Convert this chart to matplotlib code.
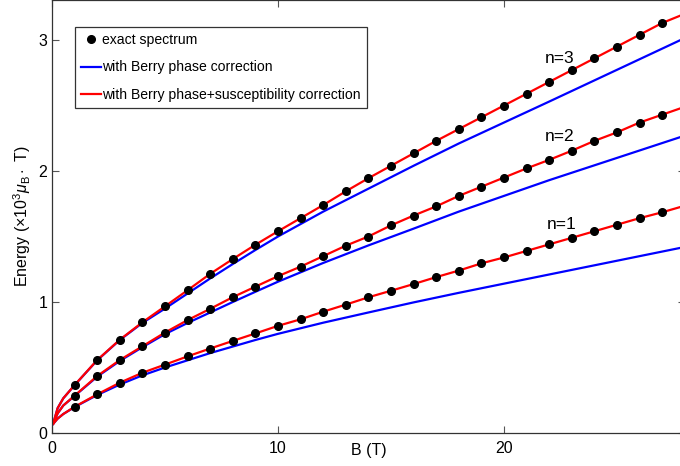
import matplotlib
matplotlib.use("Agg")
import matplotlib.pyplot as plt

plt.rcParams['font.family'] = ['Liberation Sans', 'DejaVu Sans']
plt.rcParams['mathtext.fontset'] = 'custom'
plt.rcParams['mathtext.rm'] = 'Liberation Sans'
plt.rcParams['mathtext.it'] = 'Liberation Sans:italic'

# exact spectrum, B = 1..27 T
B_exact = list(range(1, 28))
exact_n1 = [0.200, 0.295, 0.384, 0.460, 0.522, 0.585, 0.645, 0.703, 0.760, 0.818,
            0.868, 0.926, 0.980, 1.036, 1.086, 1.137, 1.190, 1.240, 1.295, 1.340,
            1.390, 1.440, 1.490, 1.540, 1.590, 1.640, 1.685]
exact_n2 = [0.285, 0.435, 0.557, 0.662, 0.767, 0.862, 0.948, 1.037, 1.117, 1.197,
            1.270, 1.350, 1.430, 1.500, 1.585, 1.660, 1.730, 1.810, 1.880, 1.950,
            2.020, 2.085, 2.155, 2.230, 2.295, 2.370, 2.430]
exact_n3 = [0.366, 0.557, 0.712, 0.845, 0.967, 1.090, 1.215, 1.328, 1.437, 1.540,
            1.640, 1.740, 1.845, 1.945, 2.040, 2.135, 2.230, 2.320, 2.410, 2.500,
            2.590, 2.680, 2.770, 2.860, 2.950, 3.040, 3.130]

# Berry phase + susceptibility correction (red)
B_red = [0.05, 0.25, 0.5] + B_exact + [28.0]
red_n1 = [0.070, 0.110, 0.145] + exact_n1 + [1.735]
red_n2 = [0.070, 0.150, 0.210] + exact_n2 + [2.490]
red_n3 = [0.070, 0.190, 0.265] + exact_n3 + [3.200]

# Berry phase correction only (blue)
B_blue = [0.05, 0.25, 0.5, 1, 2, 3, 4, 5, 6, 7, 8, 9, 10, 12, 14, 16, 18, 22, 28]
blue_n1 = [0.070, 0.110, 0.145, 0.198, 0.290, 0.370, 0.440, 0.500, 0.555, 0.610,
           0.660, 0.710, 0.757, 0.842, 0.920, 0.997, 1.070, 1.210, 1.420]
blue_n2 = [0.070, 0.150, 0.210, 0.283, 0.430, 0.550, 0.655, 0.755, 0.840, 0.920,
           1.000, 1.078, 1.155, 1.298, 1.432, 1.560, 1.690, 1.930, 2.270]
blue_n3 = [0.070, 0.190, 0.265, 0.365, 0.555, 0.710, 0.840, 0.950, 1.065, 1.180,
           1.290, 1.397, 1.500, 1.690, 1.865, 2.040, 2.210, 2.530, 3.015]

labels = ["n=1", "n=2", "n=3"]
label_pos = [(22.55, 1.59), (22.45, 2.26), (22.45, 2.86)]

fig = plt.figure(figsize=(6.8, 4.66), dpi=100)
ax = fig.add_axes([52 / 680, 33 / 466, 28 * 22.6 / 680, 433 / 466])

for bl in [blue_n1, blue_n2, blue_n3]:
    ax.plot(B_blue, bl, color='#0000ff', lw=1.6)
for rd in [red_n1, red_n2, red_n3]:
    ax.plot(B_red, rd, color='#ff0000', lw=1.6)
for ex in [exact_n1, exact_n2, exact_n3]:
    ax.plot(B_exact, ex, 'o', color='black', ms=5.5, zorder=3)

h1, = ax.plot([], [], 'o', color='black', ms=5.5)
h2, = ax.plot([], [], color='#0000ff', lw=1.6)
h3, = ax.plot([], [], color='#ff0000', lw=1.6)
leg = ax.legend([h1, h2, h3],
                ["exact spectrum", "with Berry phase correction",
                 "with Berry phase+susceptibility correction"],
                loc='upper left', bbox_to_anchor=(0.036, 0.938), fontsize=10.1,
                handlelength=1.4, handletextpad=0.12, borderpad=0.45,
                labelspacing=0.95, fancybox=False, framealpha=1,
                edgecolor='#333333', borderaxespad=0)
leg.get_frame().set_linewidth(0.9)

for txt, (x, y) in zip(labels, label_pos):
    ax.text(x, y, txt, fontsize=12.5, ha='center', va='center')

ax.set_xlim(0, 28)
ax.set_ylim(0, 433 / 131)
ax.set_xticks([0, 10, 20])
ax.set_yticks([0, 1, 2, 3])
ax.tick_params(direction='in', length=5, width=0.8, color='#555555',
               labelsize=11.5, top=True, right=True)
ax.tick_params(axis='x', pad=6)
for s in ax.spines.values():
    s.set_color('#333333')
    s.set_linewidth(0.9)
ax.set_xlabel("B (T)", fontsize=11.5)
ax.xaxis.set_label_coords(0.5, -0.022)
ax.set_ylabel(r"Energy ($\times 10^3 \mu_{\rm B} \cdot$ T)", fontsize=11.5, labelpad=4)

fig.savefig("out.png", dpi=100)
